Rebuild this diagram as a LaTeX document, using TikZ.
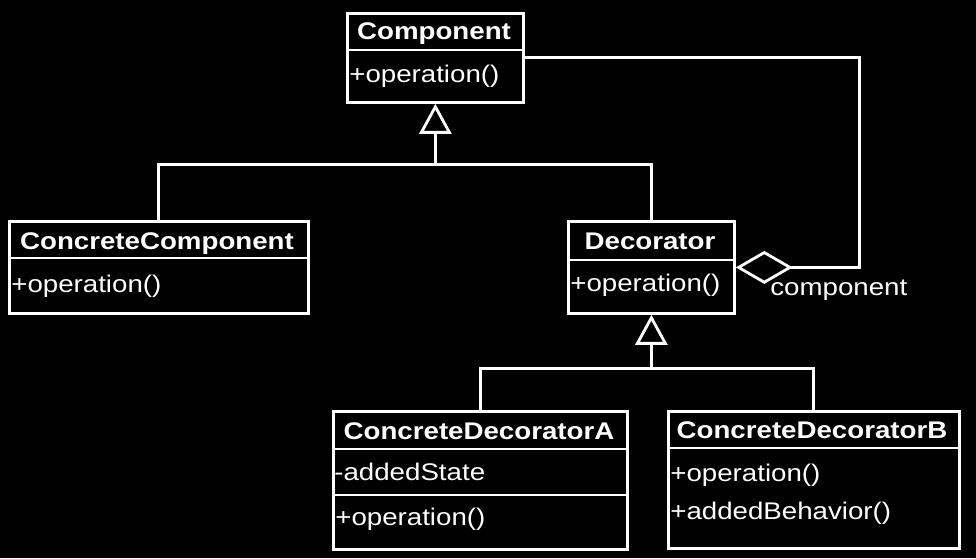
\documentclass[tikz,border=0pt]{standalone}
\usepackage{fontspec}
\setmainfont{Liberation Sans}[FakeStretch=1.15]
\usetikzlibrary{arrows.meta}

\tikzset{
    umlline/.style={draw=white, line width=1.6pt},
    classbox/.style={umlline, anchor=north west, inner sep=0pt},
    title/.style={text=white, font=\fontsize{13.7}{16}\selectfont\bfseries, inner sep=0pt, anchor=base},
    member/.style={text=white, font=\fontsize{13.7}{16}\selectfont, inner sep=0pt, anchor=base west},
    inherit/.style={umlline, -{Triangle[open, length=0.6cm, width=0.64cm, fill=black]}},
    aggregate/.style={umlline, {Diamond[open, length=1.14cm, width=0.66cm, fill=black]}-}
}

\begin{document}
\begin{tikzpicture}[x=0.02cm, y=-0.02cm]
    % Background
    \fill[black] (0,0) rectangle (976,558);
    \useasboundingbox (0,0) rectangle (976,558);

    % Component
    \node[classbox, minimum width=3.52cm, minimum height=1.78cm] (comp) at (346,12) {};
    \draw[umlline] (346,50) -- (522,50);
    \node[title] (compT) at (434,39) {Component};
    \node[member] (compOp) at (349,82) {+operation()};

    % ConcreteComponent
    \node[classbox, minimum width=5.98cm, minimum height=1.84cm] (cc) at (8,220) {};
    \draw[umlline] (8,258) -- (307,258);
    \node[title] (ccT) at (157,249) {ConcreteComponent};
    \node[member] (ccOp) at (11,292) {+operation()};

    % Decorator
    \node[classbox, minimum width=3.32cm, minimum height=1.84cm] (dec) at (567,220) {};
    \draw[umlline] (567,260) -- (733,260);
    \node[title] (decT) at (650,249) {Decorator};
    \node[member] (decOp) at (570,291) {+operation()};

    % ConcreteDecoratorA
    \node[classbox, minimum width=5.88cm, minimum height=2.76cm] (cda) at (332,410) {};
    \draw[umlline] (332,449) -- (626,449);
    \draw[umlline] (332,495) -- (626,495);
    \node[title] (cdaT) at (479,439) {ConcreteDecoratorA};
    \node[member] (cdaState) at (334,480) {-addedState};
    \node[member] (cdaOp) at (335,525) {+operation()};

    % ConcreteDecoratorB
    \node[classbox, minimum width=5.82cm, minimum height=2.74cm] (cdb) at (667,410) {};
    \draw[umlline] (667,448) -- (958,448);
    \node[title] (cdbT) at (812,438) {ConcreteDecoratorB};
    \node[member] (cdbOp) at (670,481) {+operation()};
    \node[member] (cdbBeh) at (670,519) {+addedBehavior()};

    % Inheritance from Component
    \path (comp.south) ++(0,61) coordinate (gen1);
    \draw[umlline] (cc.north) |- (gen1) -| (dec.north);
    \draw[inherit] (gen1) -- (comp.south);

    % Inheritance from Decorator
    \path (dec.south) ++(0,54) coordinate (gen2);
    \draw[umlline] (cda.north) |- (gen2) -| (cdb.north);
    \draw[inherit] (gen2) -- (dec.south);

    % Aggregation
    \draw[aggregate] (dec.east) -- ++(124,0) |- (comp.east);
    \node[member] (role) at (770,295) {component};
\end{tikzpicture}
\end{document}
